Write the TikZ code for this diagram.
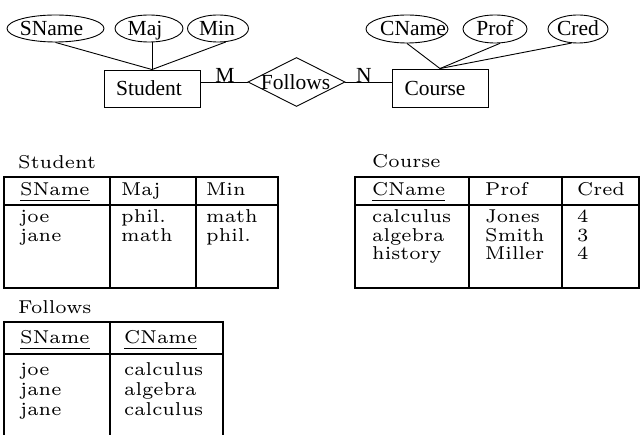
\documentclass[tikz,border=0pt]{standalone}
\usepackage{fontspec}
\usepackage{graphicx}
\usetikzlibrary{shapes.geometric}
\newfontfamily\erfont{Liberation Serif}
\newcommand{\tb}[1]{\scalebox{3.1}{\fontfamily{lmr}\fontsize{6}{7}\selectfont #1}}
\newcommand{\sh}[2]{\makebox[0pt][c]{\kern #1\kern #1 #2}}
\tikzset{
  erfnt/.style={font=\erfont\fontsize{21.5}{24}\selectfont},
  erline/.style={line width=0.9pt},
  attr/.style={ellipse, draw, line width=0.9pt, inner sep=0pt, minimum height=27pt,
               text height=14pt, text depth=0pt, erfnt},
  entity/.style={rectangle, draw, line width=0.9pt, inner sep=0pt, minimum width=96pt,
                 minimum height=37pt, erfnt},
  rel/.style={diamond, draw, line width=0.9pt, inner sep=0pt, aspect=2,
              minimum width=97pt, minimum height=49pt, erfnt},
  card/.style={inner sep=0pt, erfnt},
  trule/.style={line width=2pt},
  cell/.style={anchor=base west, inner sep=0pt},
}
\begin{document}
\begin{tikzpicture}[x=1pt,y=-1pt]
\useasboundingbox (0,0) rectangle (640,435);
% ---------------- ER diagram ----------------
\node[attr, minimum width=97pt] (sname) at (55.5,28.5) {\sh{-4pt}{SName}};
\node[attr, minimum width=68pt] (maj) at (149,28.5) {\sh{-4pt}{Maj}};
\node[attr, minimum width=61pt] (min) at (218,28.5) {\sh{-1pt}{Min}};
\node[entity] (student) at (152,88.5) {\sh{-3pt}{Student}};
\node[rel] (follows) at (296.5,82) {\sh{-1pt}{Follows}};
\node[entity, minimum height=38pt] (course) at (440,88) {\sh{-5pt}{Course}};
\node[attr, minimum width=82pt, minimum height=28pt] (cname) at (407,29) {\sh{6pt}{CName}};
\node[attr, minimum width=64pt, minimum height=28pt] (prof) at (495,29) {\sh{0pt}{Prof}};
\node[attr, minimum width=60pt, minimum height=28pt] (cred) at (578,29) {\sh{0pt}{Cred}};
\node[card] (cardm) at (225,75) {M};
\node[card] (cardn) at (364,75) {N};
\draw[erline] (sname.south) -- (student.north);
\draw[erline] (student.north |- maj.south) -- (student.north);
\draw[erline] (min.-60) -- (student.north);
\draw[erline] (cname.south) -- (course.north);
\draw[erline] (prof.-70) -- (course.north);
\draw[erline] (cred.-115) -- (course.north);
\draw[erline] (follows.west -| student.east) -- (follows.west);
\draw[erline] (follows.east) -- (follows.east -| course.west);
% ---------------- Student table ----------------
\node[cell] (sttitle) at (18,169) {\tb{Student}};
\draw[trule] (4,177) rectangle (278,288);
\draw[trule] (4,205) -- (278,205);
\draw[trule] (110,177) -- (110,288);
\draw[trule] (196,177) -- (196,288);
\node[cell] (sth1) at (20,196) {\tb{\underline{SName}}};
\node[cell] (sth2) at (121,196) {\tb{Maj}};
\node[cell] (sth3) at (206,196) {\tb{Min}};
\node[cell] (st11) at (20,223) {\tb{joe}};
\node[cell] (st12) at (121,223) {\tb{phil.}};
\node[cell] (st13) at (206,223) {\tb{math}};
\node[cell] (st21) at (20,241.5) {\tb{jane}};
\node[cell] (st22) at (121,241.5) {\tb{math}};
\node[cell] (st23) at (206,241.5) {\tb{phil.}};
% ---------------- Course table ----------------
\node[cell] (cotitle) at (372,168) {\tb{Course}};
\draw[trule] (355,177) rectangle (639,288);
\draw[trule] (355,205) -- (639,205);
\draw[trule] (469,177) -- (469,288);
\draw[trule] (562,177) -- (562,288);
\node[cell] (coh1) at (372,196) {\tb{\underline{CName}}};
\node[cell] (coh2) at (485,196) {\tb{Prof}};
\node[cell] (coh3) at (577,196) {\tb{Cred}};
\node[cell] (co11) at (372,223) {\tb{calculus}};
\node[cell] (co12) at (485,223) {\tb{Jones}};
\node[cell] (co13) at (577,223) {\tb{4}};
\node[cell] (co21) at (372,241.5) {\tb{algebra}};
\node[cell] (co22) at (485,241.5) {\tb{Smith}};
\node[cell] (co23) at (577,241.5) {\tb{3}};
\node[cell] (co31) at (372,260) {\tb{history}};
\node[cell] (co32) at (485,260) {\tb{Miller}};
\node[cell] (co33) at (577,260) {\tb{4}};
% ---------------- Follows table ----------------
\node[cell] (fotitle) at (18,314) {\tb{Follows}};
\draw[trule] (4,322) -- (223,322);
\draw[trule] (4,354) -- (223,354);
\draw[trule] (4,321) -- (4,436);
\draw[trule] (110,321) -- (110,436);
\draw[trule] (223,321) -- (223,436);
\node[cell] (foh1) at (20,344) {\tb{\underline{SName}}};
\node[cell] (foh2) at (124,344) {\tb{\underline{CName}}};
\node[cell] (fo11) at (20,376) {\tb{joe}};
\node[cell] (fo12) at (124,376) {\tb{calculus}};
\node[cell] (fo21) at (20,396) {\tb{jane}};
\node[cell] (fo22) at (124,396) {\tb{algebra}};
\node[cell] (fo31) at (20,416) {\tb{jane}};
\node[cell] (fo32) at (124,416) {\tb{calculus}};
\end{tikzpicture}
\end{document}
